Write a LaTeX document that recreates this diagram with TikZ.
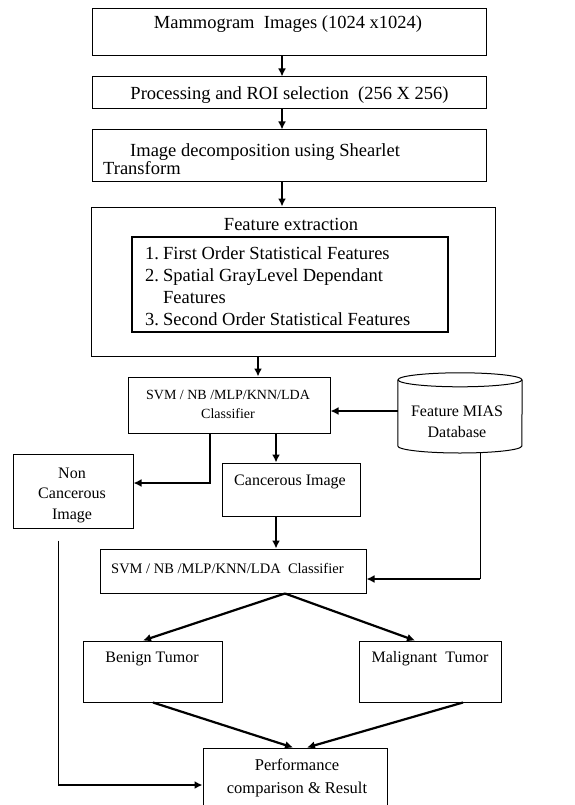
\documentclass[tikz,border=0pt]{standalone}
\usepackage{fontspec}
\setmainfont{Liberation Serif}
\usetikzlibrary{arrows.meta}
\tikzset{
  box/.style={draw, line width=1pt, inner sep=0pt},
  txt/.style={inner sep=0pt, align=center},
  big/.style={font=\fontsize{18.5}{22}\selectfont},
  mid/.style={font=\fontsize{16}{20.5}\selectfont},
  cls/.style={font=\fontsize{14}{19}\selectfont},
  flow/.style={-{Latex[length=8pt,width=8pt]}, line width=2.2pt},
  flowb/.style={-{Latex[length=8pt,width=8pt]}, line width=1.6pt},
  thinline/.style={line width=1pt}
}
\begin{document}
\begin{tikzpicture}[x=1pt,y=-1pt]
      \useasboundingbox (0,0) rectangle (574,805);
      % boxes
      \node[box, minimum width=394pt, minimum height=47pt] (b1) at (289,32.5) {};
      \node[box, minimum width=394pt, minimum height=32pt] (b2) at (289,93) {};
      \node[box, minimum width=394pt, minimum height=52pt] (b3) at (289,156) {};
      \node[box, minimum width=404pt, minimum height=149pt] (b4) at (293,281.5) {};
      \node[box, line width=1.3pt, minimum width=316pt, minimum height=95pt] (inner) at (290,284.5) {};
      \node[box, minimum width=202pt, minimum height=56pt] (cls1) at (229,405) {};
      \node[inner sep=0pt, minimum width=124pt, minimum height=80pt] (db) at (460,413) {};
      \node[box, minimum width=120pt, minimum height=74pt] (noncancer) at (73,491) {};
      \node[box, minimum width=138pt, minimum height=53pt] (cancer) at (291,489.5) {};
      \node[box, minimum width=266pt, minimum height=44pt] (cls2) at (233,571) {};
      \node[box, minimum width=139pt, minimum height=61pt] (benign) at (152.5,671.5) {};
      \node[box, minimum width=142pt, minimum height=61pt] (malig) at (430,671.5) {};
      \node[box, minimum width=184pt, minimum height=60pt] (perf) at (295,778) {};

      % database drum
      \draw[thinline] (db.west |- 0,380) -- (db.west |- 0,446)
        arc[start angle=180, end angle=0, x radius=62, y radius=7] -- (db.east |- 0,380);
      \draw[thinline] (db.north) ++(0,7) ellipse[x radius=62, y radius=7];

      % texts
      \node[txt, big, anchor=base] (t1) at (288,29) {Mammogram\ \ Images (1024 x1024)};
      \node[txt, big, anchor=base] (t2) at (289.5,100) {Processing and ROI selection\ \ (256 X 256)};
      \node[txt, big, anchor=base west] (t3a) at (130,157) {Image decomposition using Shearlet};
      \node[txt, big, anchor=base west] (t3b) at (103,175) {Transform};
      \node[txt, big, anchor=base] (t4) at (291,230) {Feature extraction};
      \node[txt, big, anchor=base west] (t5) at (145,259) {%
        \begin{tabular}[t]{@{}l@{\hspace{4pt}}l@{}}
          1. & First Order Statistical Features\\
          2. & Spatial GrayLevel Dependant\\
             & Features\\
          3. & Second Order Statistical Features
        \end{tabular}};
      \node[txt, cls, anchor=base] (t6) at (228,418) {SVM\ / NB /MLP/KNN/LDA\\Classifier};
      \node[txt, mid, font=\fontsize{16}{21}\selectfont, anchor=base] (t7) at (457,437) {Feature MIAS\\Database};
      \node[txt, mid, anchor=base] (t8) at (72,519) {Non\\Cancerous\\Image};
      \node[txt, mid, anchor=base] (t9) at (290,485) {Cancerous Image};
      \node[txt, cls, font=\fontsize{14.5}{19}\selectfont, anchor=base west] (t10) at (111,573) {SVM\ / NB /MLP/KNN/LDA\ \ Classifier};
      \node[txt, mid, anchor=base] (t11) at (152,662) {Benign Tumor};
      \node[txt, mid, anchor=base] (t12) at (430,662) {Malignant\ \ Tumor};
      \node[txt, font=\fontsize{16.5}{23}\selectfont, anchor=base] (t13) at (297,793) {Performance\\comparison \& Result};

      % connectors
      \coordinate (dbbend) at (480,579);
      \coordinate (ncbend) at (58,785);
      \draw[flow] ([xshift=-7pt]b1.south) -- ([xshift=-7pt]b1.south |- b2.north);
      \draw[flow] ([xshift=-7pt]b2.south) -- ([xshift=-7pt]b2.south |- b3.north);
      \draw[flow] ([xshift=-7pt]b3.south) -- ([xshift=-7pt]b3.south |- b4.north);
      \draw[flow] ([xshift=-35pt]b4.south) -- ([xshift=-35pt]b4.south |- cls1.north);
      \draw[flow] ([yshift=2pt]db.west) -- ([yshift=2pt]db.west -| cls1.east);
      \draw[flow] ([xshift=-19pt]cls1.south) |- ([yshift=8pt]noncancer.east);
      \draw[flow] ([xshift=47pt]cls1.south) -- ([xshift=47pt]cls1.south |- cancer.north);
      \draw[flow] ([xshift=-15pt]cancer.south) -- ([xshift=-15pt]cancer.south |- cls2.north);
      \draw[thinline] ([xshift=20pt,yshift=0.5pt]db.south) -- (dbbend);
      \draw[flow] (dbbend) -- (dbbend -| cls2.east);
      \draw[flow] ([xshift=52pt]cls2.south) -- ([xshift=-9.5pt]benign.north);
      \draw[flow] ([xshift=52pt]cls2.south) -- ([xshift=-15pt]malig.north);
      \draw[flow] ([xshift=0.5pt]benign.south) -- ([xshift=-2pt]perf.north);
      \draw[flow] ([xshift=33pt]malig.south) -- ([xshift=12pt]perf.north);
      \draw[thinline, shorten <=12pt] (noncancer.south -| ncbend) -- (ncbend);
      \draw[flowb] (ncbend) -- (ncbend -| perf.west);
    \end{tikzpicture}
\end{document}
